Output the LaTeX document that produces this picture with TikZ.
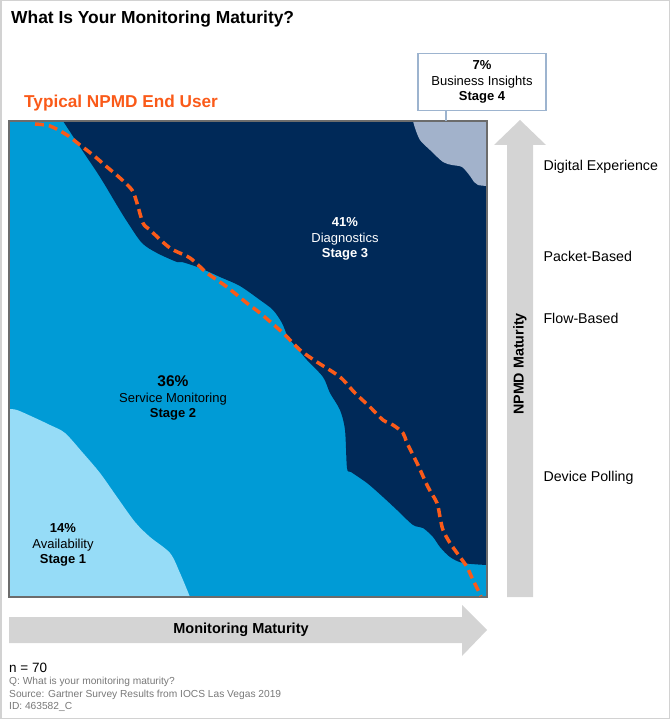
\documentclass[tikz,border=0pt]{standalone}
\usepackage{fontspec}
\setmainfont{Liberation Sans}
\usepackage{tikz}
\usetikzlibrary{positioning}
\definecolor{navy}{RGB}{0,41,88}
\definecolor{midblue}{RGB}{0,155,214}
\definecolor{paleblue}{RGB}{150,220,247}
\definecolor{slateblue}{RGB}{162,178,203}
\definecolor{npmdorange}{RGB}{250,90,25}
\definecolor{arrowgray}{RGB}{212,212,212}
\definecolor{boxedge}{RGB}{157,180,207}
\definecolor{notegray}{RGB}{120,120,120}

\begin{document}
\begin{tikzpicture}[x=1pt,y=-1pt,
	stagetext/.style={align=center,font=\fontsize{13}{15.5}\selectfont},
	levellabel/.style={anchor=west,font=\fontsize{14.2}{16}\selectfont},
	notetext/.style={anchor=west,text=notegray,font=\fontsize{10.2}{12}\selectfont,inner sep=0pt}]
	\useasboundingbox (0,0) rectangle (670,719);
	\draw[gray!35,line width=1.5pt] (0.75,0.75) rectangle (669.25,718.25);

	% headings
	\node[anchor=west,font=\bfseries\fontsize{17.4}{20}\selectfont,inner sep=0pt] (title) at (11,19) {What Is Your Monitoring Maturity?};
	\node[anchor=west,text=npmdorange,font=\bfseries\fontsize{17.2}{20}\selectfont,inner sep=0pt] (enduser) at (24,103) {Typical NPMD End User};

	% stage regions
	\fill[midblue] (9,121) rectangle (487,597);
	\fill[navy] plot[smooth,tension=0.5] coordinates {(63,121) (80,147) (100,177) (118,207) (128,223) (142,243) (157,253) (177,262) (182,262) (200,268) (220,277) (240,286) (260,300) (273,310) (282,323) (288,337) (297,348) (307,360) (323,377) (330,393) (340,410) (345,430) (347,468) (351,472) (367,483) (383,497) (397,510) (413,525) (423,528) (433,537) (440,547) (450,557) (463,563) (487,565)} -- (487,121) -- cycle;
	\fill[slateblue] plot[smooth,tension=0.5] coordinates {(413,121) (415,128) (420,140) (430,150) (443,162) (452,165) (462,167) (470,176) (474,182) (478,185) (487,186)} -- (487,121) -- cycle;
	\fill[paleblue] plot[smooth,tension=0.5] coordinates {(9,409) (17,410) (33,417) (50,425) (65,433) (83,453) (100,473) (117,497) (135,522) (150,537) (170,553) (180,573) (190,597)} -- (9,597) -- cycle;
	\draw[gray!85!black,line width=1.5pt] (9,121) rectangle (487,597);

	% typical user
	\draw[npmdorange,line width=3.5pt,dash pattern=on 9pt off 5pt] plot[smooth,tension=0.5] coordinates {(35,124) (50,126) (67,135) (80,145) (93,155) (107,167) (120,178) (132,190) (137,203) (143,223) (150,230) (170,248) (190,258) (207,273) (227,287) (248,304) (260,313) (283,333) (300,350) (317,362) (340,377) (355,393) (370,407) (383,420) (393,425) (403,433) (407,443) (417,463) (428,487) (437,503) (440,517) (443,530) (450,543) (460,557) (467,567) (473,580) (481,596)};

	\node[stagetext,text=white] (diag) at (345,239) {\bfseries 41\%\\ Diagnostics\\ \bfseries Stage 3};
	\node[stagetext] (service) at (173,398) {{\bfseries\fontsize{15.5}{15.5}\selectfont 36\%}\\ Service Monitoring\\ \bfseries Stage 2};
	\node[stagetext] (avail) at (63,545) {\bfseries 14\%\\ Availability\\ \bfseries Stage 1};

	% stage 4 callout
	\node[stagetext,draw=boxedge,line width=1.5pt,fill=white,minimum width=128pt,minimum height=57pt] (insight) at (482,82) {\bfseries 7\%\\ Business Insights\\ \bfseries Stage 4};
	\coordinate (leader) at (446,121);
	\draw[boxedge,line width=1.5pt] (insight.south -| leader) -- (leader);

	% axes
	\fill[arrowgray] (507,597) -- (507,145) -- (494,145) -- (520,120) -- (546,145) -- (533,145) -- (533,597) -- cycle;
	\node[rotate=90,font=\bfseries\fontsize{14.3}{16}\selectfont] (npmd) at (520,364) {NPMD Maturity};
	\fill[arrowgray] (9,617) -- (462,617) -- (462,605) -- (487,630) -- (462,656) -- (462,643) -- (9,643) -- cycle;
	\node[font=\bfseries\fontsize{14.5}{17}\selectfont] (monitor) at (241,630) {Monitoring Maturity};

	\node[levellabel] (digital) at (540,167) {Digital Experience};
	\node[levellabel] (packet) at (540,256) {Packet-Based};
	\node[levellabel] (flow) at (540,318) {Flow-Based};
	\node[levellabel] (polling) at (540,478) {Device Polling};

	% notes
	\node[anchor=west,inner sep=0pt,font=\fontsize{13.5}{15}\selectfont] (count) at (9,668) {n = 70};
	\node[notetext] (question) at (9,682) {Q: What is your monitoring maturity?};
	\node[notetext] (source) at (9,695) {Source: Gartner Survey Results from IOCS Las Vegas 2019};
	\node[notetext] (docid) at (9,707) {ID: 463582\_C};
\end{tikzpicture}
\end{document}
